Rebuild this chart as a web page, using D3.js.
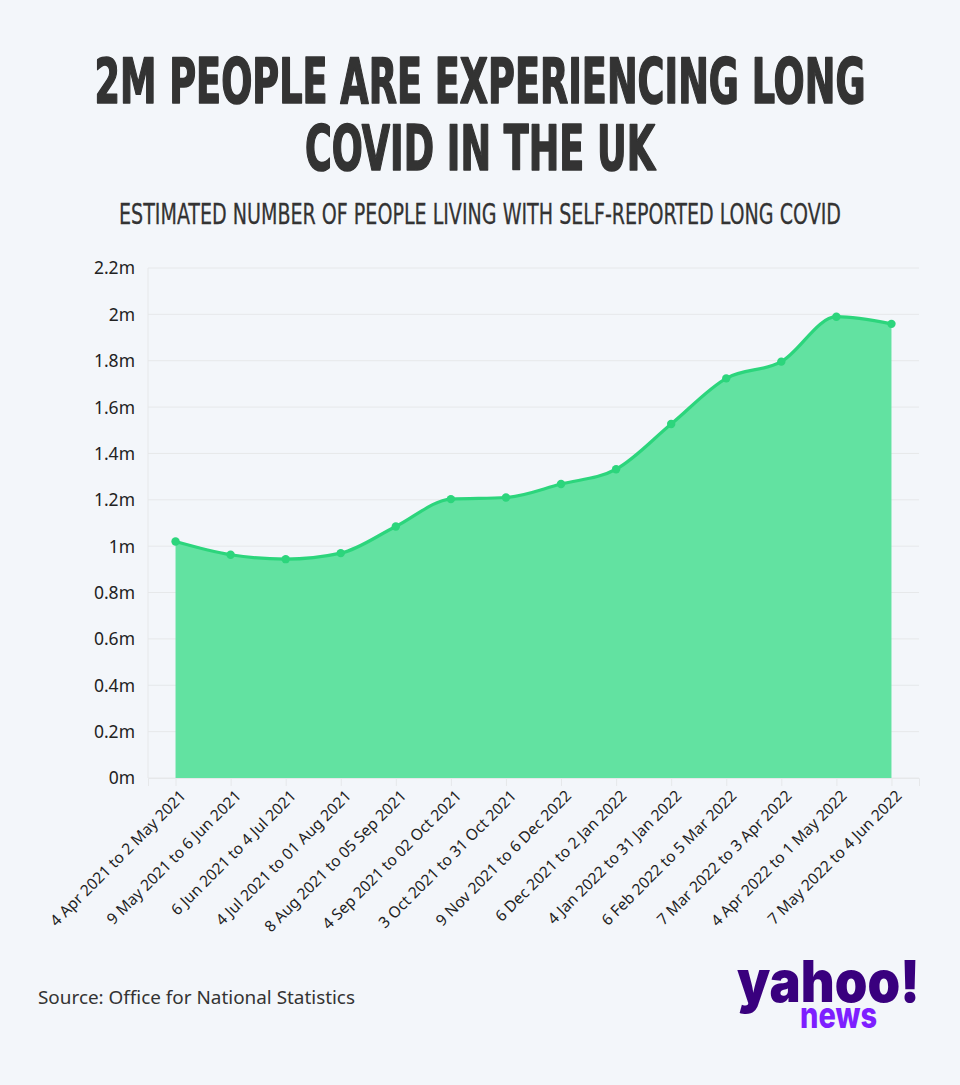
<!DOCTYPE html>
<html>
<head>
<meta charset="utf-8">
<script src="https://cdn.jsdelivr.net/npm/d3@7"></script>
<style>
  html, body { margin: 0; padding: 0; background: #f3f6fa; }
  svg { display: block; }
</style>
</head>
<body>
<div id="chart"></div>
<script>
const categories = [
  "4 Apr 2021 to 2 May 2021",
  "9 May 2021 to 6 Jun 2021",
  "6 Jun 2021 to 4 Jul 2021",
  "4 Jul 2021 to 01 Aug 2021",
  "8 Aug 2021 to 05 Sep 2021",
  "4 Sep 2021 to 02 Oct 2021",
  "3 Oct 2021 to 31 Oct 2021",
  "9 Nov 2021 to 6 Dec 2022",
  "6 Dec 2021 to 2 Jan 2022",
  "4 Jan 2022 to 31 Jan 2022",
  "6 Feb 2022 to 5 Mar 2022",
  "7 Mar 2022 to 3 Apr 2022",
  "4 Apr 2022 to 1 May 2022",
  "7 May 2022 to 4 Jun 2022"
];
const values = [1.020, 0.963, 0.944, 0.970, 1.085, 1.203, 1.210, 1.268, 1.332, 1.527, 1.724, 1.796, 1.990, 1.959];
const yTicks = [0, 0.2, 0.4, 0.6, 0.8, 1, 1.2, 1.4, 1.6, 1.8, 2, 2.2];
const titleLines = ["2M PEOPLE ARE EXPERIENCING LONG", "COVID IN THE UK"];
const subtitle = "ESTIMATED NUMBER OF PEOPLE LIVING WITH SELF-REPORTED LONG COVID";
const source = "Source: Office for National Statistics";

(function () {
const W = 960, H = 1085;
const svg = d3.select("#chart").append("svg").attr("width", W).attr("height", H);
svg.append("rect").attr("width", W).attr("height", H).attr("fill", "#f3f6fa");

// Titles
const titleFont = "'DejaVu Sans Condensed', 'DejaVu Sans', sans-serif";
svg.append("text").attr("x", 480).attr("y", 103).attr("text-anchor", "middle")
  .attr("font-family", titleFont).attr("font-weight", "bold").attr("font-size", 62)
  .attr("fill", "#333").attr("stroke", "#333").attr("stroke-width", 1.6).attr("stroke-linejoin", "round")
  .attr("textLength", 771).attr("lengthAdjust", "spacingAndGlyphs")
  .text(titleLines[0]);
svg.append("text").attr("x", 480).attr("y", 170).attr("text-anchor", "middle")
  .attr("font-family", titleFont).attr("font-weight", "bold").attr("font-size", 62)
  .attr("fill", "#333").attr("stroke", "#333").attr("stroke-width", 1.6).attr("stroke-linejoin", "round")
  .attr("textLength", 350).attr("lengthAdjust", "spacingAndGlyphs")
  .text(titleLines[1]);
svg.append("text").attr("x", 480).attr("y", 224).attr("text-anchor", "middle")
  .attr("font-family", titleFont).attr("font-size", 29)
  .attr("fill", "#333").attr("stroke", "#333").attr("stroke-width", 0.3)
  .attr("textLength", 722).attr("lengthAdjust", "spacingAndGlyphs")
  .text(subtitle);

// Scales
const pLeft = 148, pRight = 919, pTop = 268, pBottom = 778;
const x = d3.scalePoint().domain(categories).range([pLeft, pRight]).padding(0.5);
const y = d3.scaleLinear().domain([0, 2.2]).range([pBottom, pTop]);

// Grid
svg.append("g").selectAll("line").data(yTicks).join("line")
  .attr("x1", pLeft).attr("x2", pRight)
  .attr("y1", d => y(d)).attr("y2", d => y(d))
  .attr("stroke", "#e6e8ea").attr("stroke-width", 1);
svg.append("line").attr("x1", pLeft).attr("x2", pLeft).attr("y1", pTop).attr("y2", pBottom)
  .attr("stroke", "#e6e8ea");

// Y axis
const yAxis = d3.axisLeft(y).tickValues(yTicks).tickSize(0).tickPadding(0)
  .tickFormat(d => d3.format("~g")(d) + "m");
const yg = svg.append("g").attr("transform", "translate(135,0)").call(yAxis);
yg.select(".domain").remove();
yg.selectAll("text").attr("font-family", "'Noto Sans', 'Open Sans', sans-serif")
  .attr("font-size", 17.5).attr("fill", "#222").attr("dy", "0.34em");

// X axis
const xAxis = d3.axisBottom(x).tickSize(8).tickPadding(0);
const xg = svg.append("g").attr("transform", `translate(0,${pBottom})`).call(xAxis);
xg.select(".domain").attr("stroke", "#e6e8ea");
xg.selectAll(".tick line").attr("stroke", "#e6e8ea");
xg.selectAll("text")
  .attr("font-family", "'Noto Sans', 'Open Sans', sans-serif")
  .attr("font-size", 15.5).attr("fill", "#222")
  .attr("text-anchor", "end")
  .attr("transform", "translate(7,15) rotate(-45)")
  .attr("dy", "0.35em").attr("y", 0);

// Area + line
const area = d3.area().x((d, i) => x(categories[i])).y0(y(0)).y1(d => y(d)).curve(d3.curveMonotoneX);
const line = d3.line().x((d, i) => x(categories[i])).y(d => y(d)).curve(d3.curveMonotoneX);
svg.append("path").datum(values).attr("d", area).attr("fill", "#62e2a1");
svg.append("path").datum(values).attr("d", line).attr("fill", "none")
  .attr("stroke", "#2cd57c").attr("stroke-width", 3.2).attr("stroke-linejoin", "round");
svg.append("g").selectAll("circle").data(values).join("circle")
  .attr("cx", (d, i) => x(categories[i])).attr("cy", d => y(d)).attr("r", 4.2)
  .attr("fill", "#2cd57c");

// Source
svg.append("text").attr("x", 38).attr("y", 1004)
  .attr("font-family", "'Noto Sans', 'Open Sans', sans-serif").attr("font-size", 18)
  .attr("fill", "#333").attr("textLength", 317).attr("lengthAdjust", "spacingAndGlyphs")
  .text(source);

// Logo
svg.append("text").attr("x", 737).attr("y", 1002)
  .attr("font-family", "Inter, 'Noto Sans', sans-serif").attr("font-weight", 900).attr("font-size", 58)
  .attr("fill", "#39007e").attr("textLength", 183).attr("lengthAdjust", "spacingAndGlyphs")
  .text("yahoo!");
svg.append("text").attr("x", 800).attr("y", 1028)
  .attr("font-family", "Inter, 'Noto Sans', sans-serif").attr("font-weight", 800).attr("font-size", 36)
  .attr("fill", "#7e1fff").attr("textLength", 77).attr("lengthAdjust", "spacingAndGlyphs")
  .text("news");
})();
</script>
</body>
</html>
